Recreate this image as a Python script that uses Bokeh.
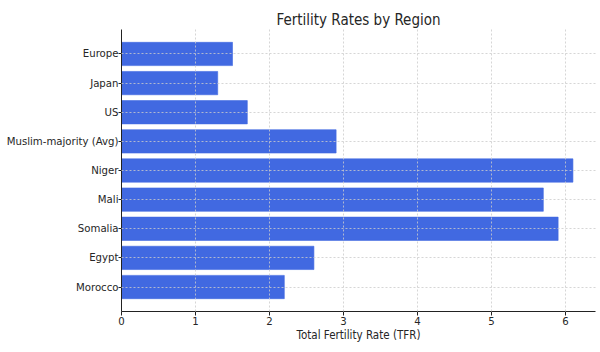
from bokeh.plotting import figure
from bokeh.models import FactorRange, ColumnDataSource, Title
from bokeh.embed import file_html
from bokeh.resources import INLINE

regions = ["Europe", "Japan", "US", "Muslim-majority (Avg)", "Niger", "Mali", "Somalia", "Egypt", "Morocco"]
tfr = [1.5, 1.3, 1.7, 2.9, 6.1, 5.7, 5.9, 2.6, 2.2]
x_ticks = [0, 1, 2, 3, 4, 5, 6]

factors = list(reversed(regions))
src = ColumnDataSource(dict(region=regions, tfr=tfr))

FONT = "'DejaVu Sans Condensed', 'DejaVu Sans'"
TXT = "#262626"

p = figure(width=600, height=352, output_backend="svg", toolbar_location=None,
           y_range=FactorRange(*factors, range_padding=0.68 / 9, range_padding_units="percent"),
           x_range=(0, 6.405),
           min_border_left=121, min_border_right=5, min_border_top=29, min_border_bottom=41)

p.hbar(y="region", right="tfr", left=0, height=0.8, source=src,
       fill_color="#4169E1", line_color="#4169E1", line_alpha=0.6)

p.title = Title(text="Fertility Rates by Region", align="center", text_font=FONT,
                text_font_size="15px", text_font_style="normal", text_color=TXT,
                offset=0, standoff=1)

p.outline_line_color = None
p.background_fill_color = "white"
p.border_fill_color = "white"

p.xaxis.ticker = x_ticks
p.xaxis.axis_label = "Total Fertility Rate (TFR)"
for ax in (p.xaxis[0], p.yaxis[0]):
    ax.axis_line_color = "#222222"
    ax.axis_line_width = 1
    ax.major_tick_line_color = "#222222"
    ax.major_tick_out = 4
    ax.major_tick_in = 0
    ax.minor_tick_line_color = None
    ax.major_label_text_font = FONT
    ax.major_label_text_font_size = "11.3px"
    ax.major_label_text_color = TXT
    ax.axis_label_text_font = FONT
    ax.axis_label_text_font_size = "11.5px"
    ax.axis_label_text_font_style = "normal"
    ax.axis_label_text_color = TXT
p.xaxis.major_label_standoff = 1
p.xaxis.axis_label_standoff = 0
p.yaxis.major_label_standoff = 0
p.yaxis.major_tick_out = 3

p.xgrid.grid_line_color = "#cccccc"
p.xgrid.grid_line_dash = "2 2"
p.xgrid.grid_line_alpha = 0.8
p.ygrid.grid_line_color = "#cccccc"
p.ygrid.grid_line_dash = "2 2"
p.ygrid.grid_line_alpha = 0.8
p.xgrid.level = "overlay"
p.ygrid.level = "overlay"

open("out.html", "w").write(file_html(p, INLINE))
